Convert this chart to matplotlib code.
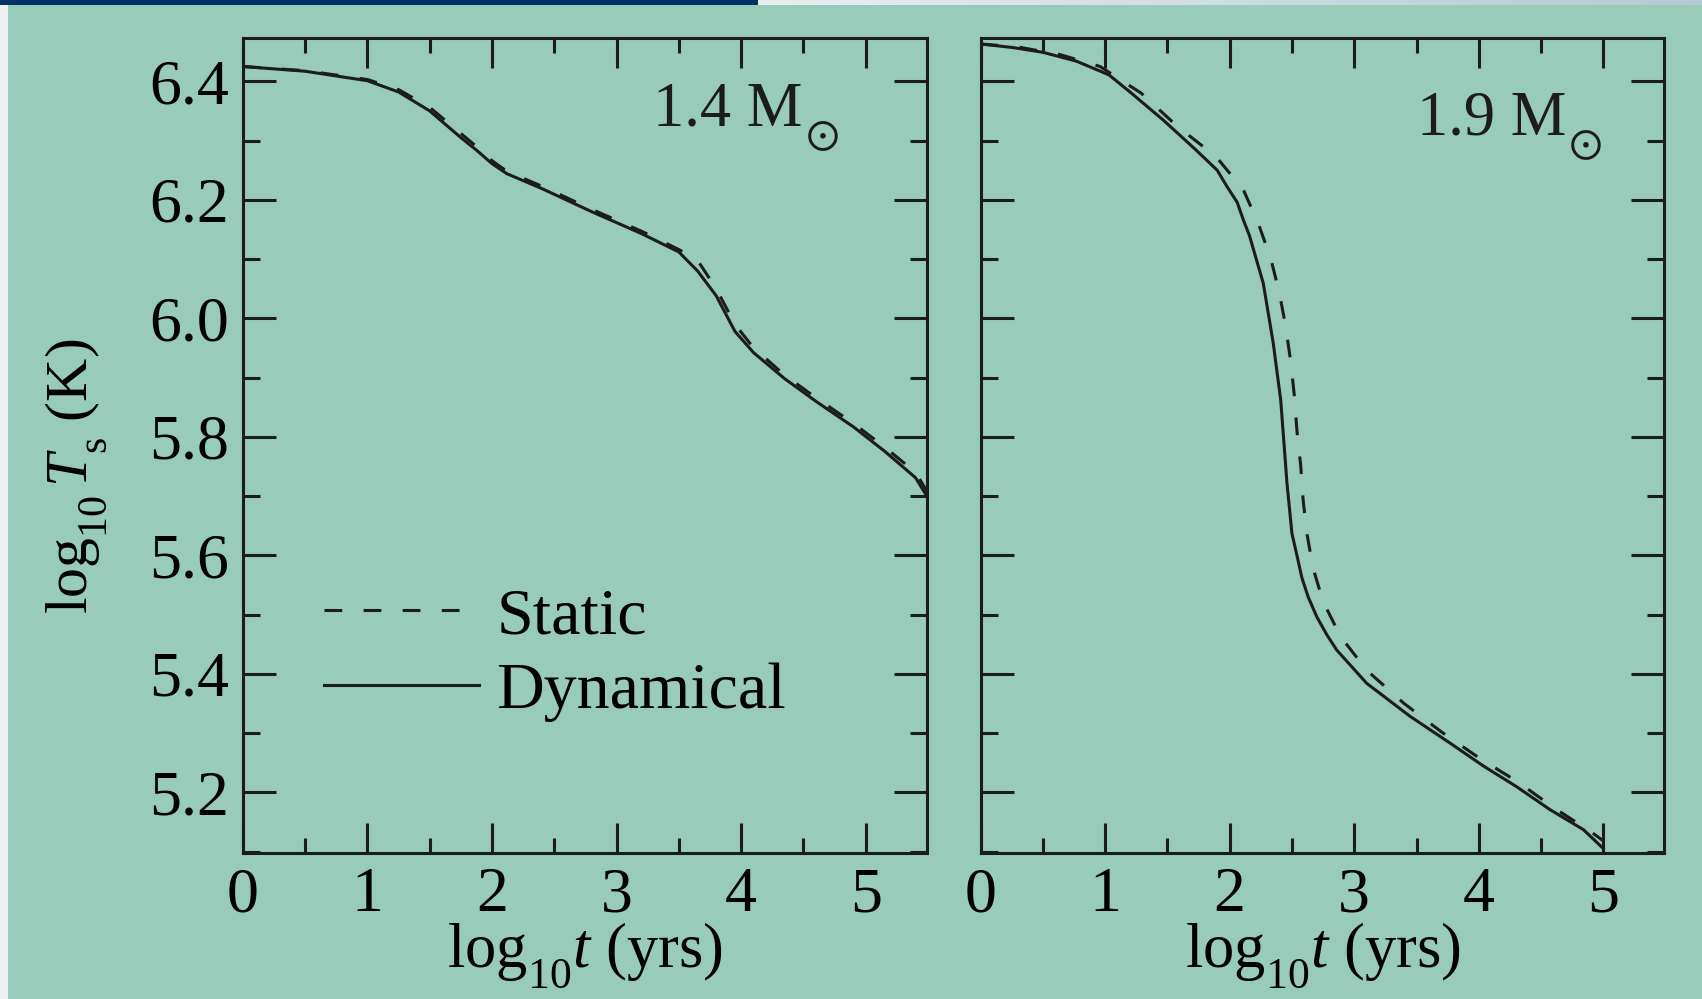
import numpy as np
import matplotlib
matplotlib.use('Agg')
import matplotlib.pyplot as plt
from matplotlib.patches import Rectangle
from matplotlib.ticker import MultipleLocator

plt.rcParams['font.family'] = ['Liberation Serif', 'DejaVu Serif']
plt.rcParams['mathtext.fontset'] = 'custom'
plt.rcParams['mathtext.rm'] = 'Liberation Serif'
plt.rcParams['mathtext.it'] = 'Liberation Serif:italic'
plt.rcParams['mathtext.fallback'] = 'stix'

# subscripts in the original sit lower than mathtext's default
try:
    import matplotlib._mathtext as _mt
    _mt.FontConstantsBase.sub1 = 0.75
except Exception:
    pass

# 1.4 solar masses: log10 t (yrs) vs log10 Ts (K)
t14_dyn = [0, 0.5, 1.0, 1.25, 1.5, 1.75, 1.88, 2.0, 2.12, 2.4, 2.8, 3.2, 3.5, 3.65, 3.8,
           3.95, 4.1, 4.35, 4.6, 4.9, 5.15, 5.4, 5.5]
T14_dyn = [6.425, 6.417, 6.401, 6.382, 6.350, 6.305, 6.283, 6.261, 6.244, 6.219, 6.180,
           6.143, 6.112, 6.080, 6.038, 5.978, 5.942, 5.898, 5.860, 5.817, 5.776, 5.731,
           5.697]
t14_sta = [0, 0.5, 1.0, 1.25, 1.5, 1.75, 1.88, 2.0, 2.12, 2.4, 2.8, 3.2, 3.5, 3.65, 3.8,
           3.95, 4.1, 4.35, 4.6, 4.9, 5.15, 5.4, 5.5]
T14_sta = [6.425, 6.418, 6.403, 6.386, 6.356, 6.312, 6.289, 6.266, 6.248, 6.223, 6.184,
           6.147, 6.116, 6.098, 6.050, 5.990, 5.950, 5.904, 5.866, 5.823, 5.783, 5.740,
           5.705]

# 1.9 solar masses
t19_dyn = [0, 0.26, 0.5, 0.77, 1.03, 1.2, 1.47, 1.72, 1.9, 1.98, 2.06, 2.11, 2.16, 2.27,
           2.35, 2.41, 2.43, 2.46, 2.5, 2.54, 2.58, 2.63, 2.7, 2.78, 2.86, 3.1, 3.45,
           3.77, 4.04, 4.3, 4.57, 4.84, 5.0]
T19_dyn = [6.463, 6.457, 6.449, 6.434, 6.411, 6.382, 6.334, 6.286, 6.250, 6.222, 6.196,
           6.166, 6.139, 6.059, 5.958, 5.862, 5.806, 5.722, 5.637, 5.600, 5.562, 5.530,
           5.496, 5.466, 5.440, 5.384, 5.328, 5.283, 5.244, 5.210, 5.171, 5.137, 5.105]
t19_sta = [0, 0.3, 0.64, 0.96, 1.29, 1.58, 1.89, 2.11, 2.23, 2.33, 2.40, 2.45, 2.49, 2.52,
           2.54, 2.57, 2.59, 2.62, 2.67, 2.75, 2.89, 3.10, 3.40, 3.70, 4.01, 4.31, 4.61,
           4.91, 5.0]
T19_sta = [6.463, 6.458, 6.445, 6.425, 6.380, 6.324, 6.273, 6.217, 6.160, 6.101, 6.042,
           5.986, 5.927, 5.868, 5.811, 5.752, 5.693, 5.637, 5.578, 5.522, 5.463, 5.406,
           5.350, 5.302, 5.257, 5.218, 5.173, 5.132, 5.118]

bg = '#98cbb9'
ink = '#1c1c1c'
fs = 46

fig = plt.figure(figsize=(17.02, 9.99), dpi=100, facecolor=bg)

# slide decoration: top bar and left strip
fig.add_artist(Rectangle((0, 1 - 5 / 999), 758 / 1702, 5 / 999, transform=fig.transFigure,
                         color='#003366', lw=0))
grad = fig.add_axes([758 / 1702, 1 - 5 / 999, 944 / 1702, 5 / 999])
grad.imshow(np.linspace(0, 1, 256)[None, :], aspect='auto',
            cmap=matplotlib.colors.LinearSegmentedColormap.from_list('g', ['#eaeef1', '#b4cad2']))
grad.axis('off')
fig.add_artist(Rectangle((0, 0), 8 / 1702, 1 - 5 / 999, transform=fig.transFigure,
                         color='#eef1f4', lw=0))

ax1 = fig.add_axes([0.1427, 0.1458, 0.4018, 0.8161])
ax2 = fig.add_axes([0.5761, 0.1458, 0.4018, 0.8161], sharey=ax1)

lw = 2.2
dash = (0, (5.8, 7.0))
ax1.plot(t14_sta, T14_sta, color=ink, lw=lw, ls=dash, label='Static')
ax1.plot(t14_dyn, T14_dyn, color=ink, lw=lw, label='Dynamical')
ax2.plot(t19_sta, T19_sta, color=ink, lw=lw, ls=dash)
ax2.plot(t19_dyn, T19_dyn, color=ink, lw=lw)

for ax in (ax1, ax2):
    ax.set_facecolor('none')
    ax.set_xlim(0, 5.49)
    ax.set_ylim(5.097, 6.473)
    ax.xaxis.set_major_locator(MultipleLocator(1))
    ax.xaxis.set_minor_locator(MultipleLocator(0.5))
    ax.yaxis.set_major_locator(MultipleLocator(0.2))
    ax.yaxis.set_minor_locator(MultipleLocator(0.1))
    for s in ax.spines.values():
        s.set_linewidth(2.2)
        s.set_color(ink)
    ax.tick_params(which='both', direction='in', top=True, right=True, width=2.2,
                   color=ink, labelsize=fs, pad=10)
    ax.tick_params(axis='x', which='major', length=21.5)
    ax.tick_params(axis='x', which='minor', length=11)
    ax.tick_params(axis='y', which='major', length=23.5)
    ax.tick_params(axis='y', which='minor', length=12)
    ax.set_xlabel(r'$\mathrm{log}_{10}t$ (yrs)', fontsize=45)
    ax.xaxis.set_label_coords(0.5, -0.083)

ax2.tick_params(axis='y', labelleft=False)
ax1.set_ylabel(r'$\mathrm{log}_{10}\,T_{\mathrm{s}}$ (K)', fontsize=43)
ax1.yaxis.set_label_coords(-0.196, 0.463)

for ax, x, y, s in ((ax1, 3.295, 6.326, '1.4 M'), (ax2, 3.50, 6.311, '1.9 M')):
    t = ax.text(x, y, s, fontsize=45, color=ink)
    ax.annotate(r'$\odot$', xy=(1, 0), xycoords=t, xytext=(1.5, 2), textcoords='offset points',
                ha='left', va='center', fontsize=32, color=ink)

ax1.legend(loc='center left', bbox_to_anchor=(0.1187, 0.2436), frameon=False,
           fontsize=47.5, handlelength=2.35, handletextpad=0.26, labelspacing=0.22,
           borderpad=0, borderaxespad=0)

fig.savefig('out.png', dpi=100, facecolor=bg)
